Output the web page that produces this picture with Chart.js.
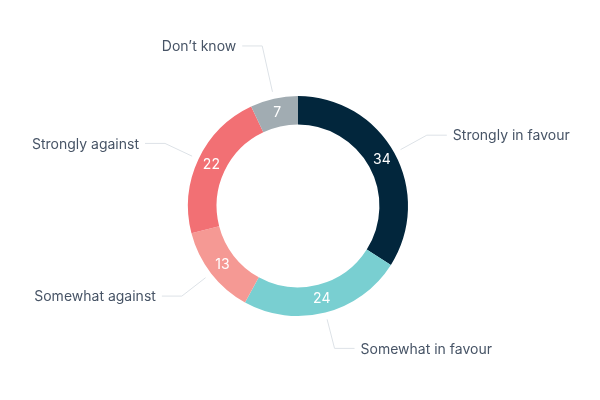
<!DOCTYPE html>
<html>
<head>
<meta charset="utf-8">
<script src="https://cdn.jsdelivr.net/npm/chart.js@4"></script>
<style>
  html, body { margin: 0; padding: 0; background: #fff; }
  #wrap { width: 600px; height: 400px; }
</style>
</head>
<body>
<div id="wrap"><canvas id="opinionChart"></canvas></div>
<script>
// ── Data ────────────────────────────────────────────────────────────────
const categories = ['Strongly in favour', 'Somewhat in favour', 'Somewhat against', 'Strongly against', 'Don\u2019t know'];
const shares = [34, 24, 13, 22, 7];
const sliceColors = ['#02263c', '#79cfd1', '#f59994', '#f27074', '#a1acb2'];

const FONT = 'Inter, "Noto Sans", sans-serif';

// labels outside the ring with elbow leader lines, values inside the ring
const sliceLabels = {
    id: 'sliceLabels',
    afterDatasetsDraw(chart) {
        const ctx = chart.ctx;
        const meta = chart.getDatasetMeta(0);
        ctx.save();
        meta.data.forEach(function (arc, i) {
            const p = arc.getProps(['x', 'y', 'startAngle', 'endAngle', 'innerRadius', 'outerRadius'], true);
            const mid = (p.startAngle + p.endAngle) / 2;
            const dx = Math.cos(mid), dy = Math.sin(mid);

            // value inside ring
            const rv = (p.innerRadius + p.outerRadius) / 2;
            ctx.fillStyle = '#ffffff';
            ctx.font = '14px ' + FONT;
            ctx.textAlign = 'center';
            ctx.textBaseline = 'middle';
            ctx.fillText(String(shares[i]), p.x + dx * rv, p.y + dy * rv);

            // leader line
            const r0 = p.outerRadius + 7;
            const r1 = p.outerRadius + (dy < -0.95 ? 54 : 37);
            const x0 = p.x + dx * r0, y0 = p.y + dy * r0;
            const x1 = p.x + dx * r1, y1 = p.y + dy * r1;
            const side = dx >= 0 ? 1 : -1;
            const x2 = x1 + side * 20;
            ctx.strokeStyle = '#dde2e7';
            ctx.lineWidth = 1;
            ctx.beginPath();
            ctx.moveTo(x0, y0);
            ctx.lineTo(x1, y1);
            ctx.lineTo(x2, y1);
            ctx.stroke();

            ctx.fillStyle = '#475466';
            ctx.font = '14px ' + FONT;
            ctx.textAlign = side > 0 ? 'left' : 'right';
            ctx.fillText(categories[i], x2 + side * 6, y1 + 1);
        });
        ctx.restore();
    }
};

new Chart(document.getElementById('opinionChart'), {
    type: 'doughnut',
    data: {
        labels: categories,
        datasets: [{
            data: shares,
            backgroundColor: sliceColors,
            borderWidth: 0,
        }]
    },
    options: {
        responsive: true,
        maintainAspectRatio: false,
        animation: false,
        cutout: '74%',
        layout: { padding: { left: 188, right: 192, top: 96, bottom: 84 } },
        plugins: {
            legend: { display: false },
            tooltip: { enabled: false }
        }
    },
    plugins: [sliceLabels]
});
</script>
</body>
</html>
